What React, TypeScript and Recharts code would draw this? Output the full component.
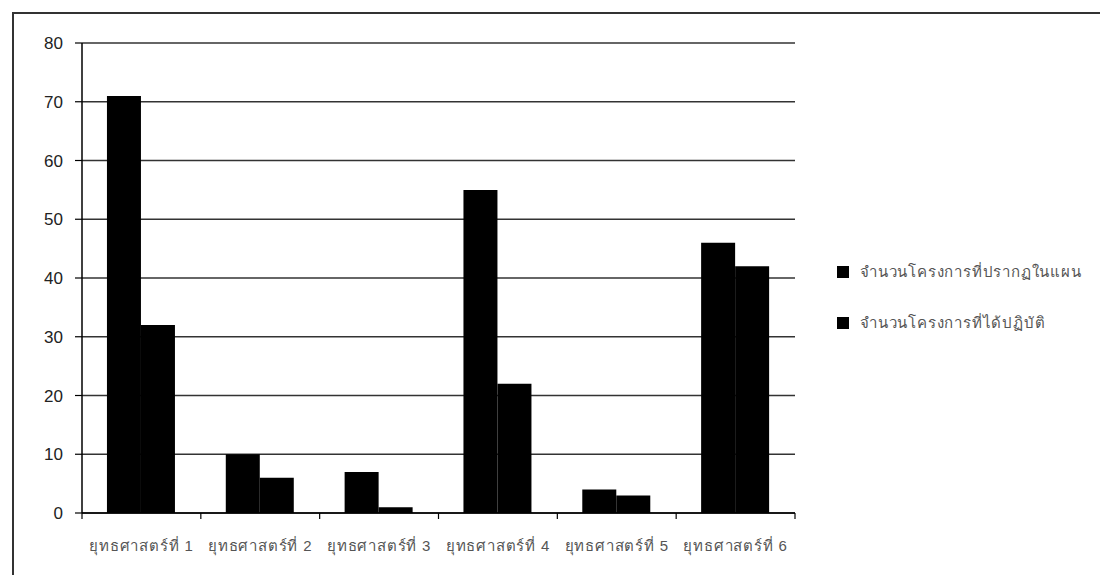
import React from "react";
import { BarChart, Bar, XAxis, YAxis, CartesianGrid } from "recharts";

const categories = [
  "ยุทธศาสตร์ที่ 1",
  "ยุทธศาสตร์ที่ 2",
  "ยุทธศาสตร์ที่ 3",
  "ยุทธศาสตร์ที่ 4",
  "ยุทธศาสตร์ที่ 5",
  "ยุทธศาสตร์ที่ 6",
];
const plannedValues = [71, 10, 7, 55, 4, 46];
const implementedValues = [32, 6, 1, 22, 3, 42];
const seriesNames = ["จำนวนโครงการที่ปรากฏในแผน", "จำนวนโครงการที่ได้ปฏิบัติ"];
const yTicks = [0, 10, 20, 30, 40, 50, 60, 70, 80];

const data = categories.map((c, i) => ({
  name: c,
  planned: plannedValues[i],
  implemented: implementedValues[i],
}));

const FONT = "'Liberation Sans', Arial, 'DejaVu Sans', sans-serif";

const XTick = (props: any) => {
  const { x, y, payload, index } = props;
  const half = payload && payload.offset ? payload.offset : 59.4;
  return (
    <g>
      <line x1={x - half} x2={x - half} y1={y} y2={y + 6} stroke="#000" strokeWidth={1.2} />
      {index === categories.length - 1 && (
        <line x1={x + half} x2={x + half} y1={y} y2={y + 6} stroke="#000" strokeWidth={1.2} />
      )}
      <text
        x={x}
        y={y + 27}
        dy="0.71em"
        textAnchor="middle"
        fontSize={15}
        letterSpacing={0.8}
        fill="#555"
        fontFamily={FONT}
      >
        {payload.value}
      </text>
    </g>
  );
};

const LegendBox = () => (
  <div style={{ position: "absolute", left: 837, top: 260, fontFamily: FONT, fontSize: 15, letterSpacing: 0.8, color: "#555" }}>
    {seriesNames.map((n, i) => (
      <div
        key={n}
        style={{ display: "flex", alignItems: "center", height: 24, marginBottom: i === 0 ? 27 : 0, whiteSpace: "nowrap" }}
      >
        <span style={{ width: 12, height: 12, background: "#000", display: "inline-block", marginRight: 11 }} />
        <span>{n}</span>
      </div>
    ))}
  </div>
);

export default function App() {
  return (
    <div style={{ position: "fixed", left: 0, top: 0, width: 1100, height: 575, background: "#fff", overflow: "hidden" }}>
      <div
        style={{
          position: "absolute",
          left: 12,
          top: 12,
          width: 1200,
          height: 700,
          border: "2px solid #333",
          boxSizing: "border-box",
        }}
      />
      <div style={{ position: "absolute", left: 0, top: 0 }}>
        <BarChart
          width={1100}
          height={575}
          data={data}
          margin={{ top: 43, right: 305, left: 0, bottom: 32 }}
          barCategoryGap="21%"
          barGap={0}
        >
          <CartesianGrid horizontal vertical={false} stroke="#333" strokeWidth={1.5} />
          <XAxis
            dataKey="name"
            height={30}
            tickLine={false}
            tickSize={0}
            tickMargin={0}
            axisLine={{ stroke: "#000", strokeWidth: 1.5 }}
            tick={<XTick />}
            interval={0}
          />
          <YAxis
            width={82}
            domain={[0, 80]}
            ticks={yTicks}
            interval={0}
            tickSize={7}
            tickMargin={12}
            tickLine={{ stroke: "#000", strokeWidth: 1.2 }}
            axisLine={{ stroke: "#000", strokeWidth: 1.5 }}
            tick={{ fontSize: 17, fill: "#222", fontFamily: FONT }}
          />
          <Bar dataKey="planned" name={seriesNames[0]} fill="#000" isAnimationActive={false} />
          <Bar dataKey="implemented" name={seriesNames[1]} fill="#000" isAnimationActive={false} />
        </BarChart>
      </div>
      <LegendBox />
    </div>
  );
}
